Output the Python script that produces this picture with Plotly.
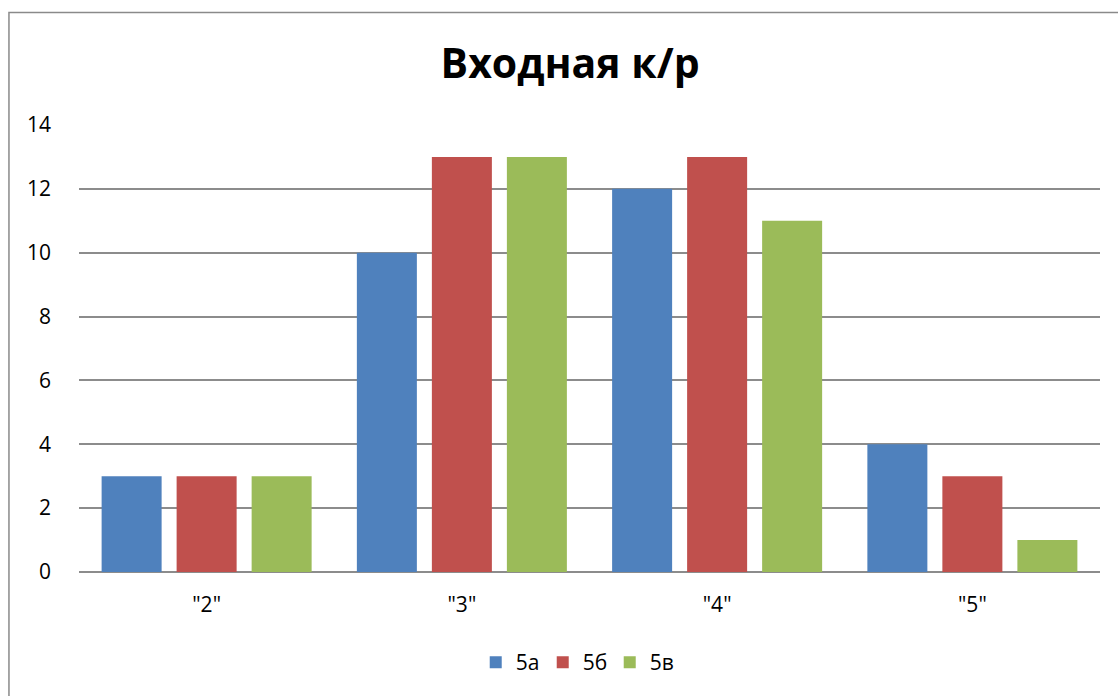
import plotly.graph_objects as go

# Grades and class results
categories = ['"2"', '"3"', '"4"', '"5"']
series_names = ["5а", "5б", "5в"]
values_5a = [3, 10, 12, 4]
values_5b = [3, 13, 13, 3]
values_5v = [3, 13, 11, 1]
y_ticks = [0, 2, 4, 6, 8, 10, 12, 14]

colors = ["#4F81BD", "#C0504D", "#9BBB59"]
font_family = "Open Sans, Noto Sans, DejaVu Sans, sans-serif"

fig = go.Figure()
for name, vals, col in zip(series_names, [values_5a, values_5b, values_5v], colors):
    fig.add_trace(go.Bar(
        x=categories, y=vals, name=name,
        marker=dict(color=col, line=dict(width=0)),
    ))

grid_color = "#8c8c8c"

fig.update_layout(
    width=1118, height=696,
    margin=dict(l=79, r=18, t=125, b=124),
    paper_bgcolor="white", plot_bgcolor="white",
    barmode="group", bargap=0.1185, bargroupgap=0.2,
    font=dict(family=font_family, size=21, color="#000000"),
    title=dict(
        text="<b>Входная к/р</b>",
        x=0.481, xanchor="center", xref="paper",
        y=0.908, yanchor="middle", yref="container",
        font=dict(family=font_family, size=41, color="#000000"),
    ),
    legend=dict(
        orientation="h", x=0.487, xanchor="center", y=-0.2025, yanchor="middle",
        font=dict(size=21), itemsizing="constant", entrywidth=22,
        entrywidthmode="pixels", traceorder="normal",
    ),
    showlegend=True,
    xaxis=dict(
        type="category", showgrid=False, showline=False, ticks="",
        ticklabelstandoff=18, tickfont=dict(size=21),
    ),
    yaxis=dict(
        range=[0, 14], tickvals=y_ticks, showgrid=True, gridcolor=grid_color,
        gridwidth=1.6, zeroline=True, zerolinecolor=grid_color, zerolinewidth=1.6,
        showline=False, ticks="", ticklabelstandoff=27, tickfont=dict(size=21),
    ),
    shapes=[dict(
        type="rect", xref="paper", yref="paper",
        x0=-0.0686, x1=1.2, y0=-0.5, y1=1.2517,
        line=dict(color="#8a8a8a", width=1.5), fillcolor="rgba(0,0,0,0)",
        layer="below",
    )],
)

fig.write_html("out.html")
